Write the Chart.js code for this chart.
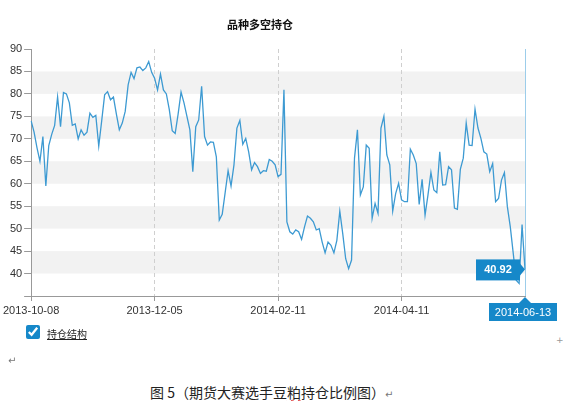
<!DOCTYPE html>
<html>
<head>
<meta charset="utf-8">
<script src="https://cdn.jsdelivr.net/npm/chart.js@4/dist/chart.umd.min.js"></script>
<style>
  html, body { margin: 0; padding: 0; background: #fff; }
  body { width: 563px; height: 401px; position: relative; overflow: hidden; font-family: "Liberation Sans", Arial, sans-serif; }
  #wrap { position: absolute; left: 0; top: 0; width: 563px; height: 330px; }
  .txt { position: absolute; white-space: nowrap; }
  #title { left: 227px; top: 17px; font: bold 11px/14px "Noto Sans CJK SC", sans-serif; color: #111; }
  #legendBox { position: absolute; left: 26px; top: 325px; width: 14px; height: 14px; margin: 0; accent-color: #1688c9; }
  #legendText { left: 47px; top: 327px; font: 10px/14px "Noto Sans CJK SC", sans-serif; color: #222; text-decoration: underline; }
  #ret1 { left: 8px; top: 355px; font: 10px/12px "DejaVu Sans", sans-serif; color: #777; }
  #plus { left: 556px; top: 334px; font: 9px/12px "DejaVu Sans", sans-serif; color: #999; }
  #caption { left: 150px; top: 383px; font: 14px/18px "Noto Sans CJK SC", sans-serif; color: #222; }
  #caption .ret { font: 10px "DejaVu Sans", sans-serif; color: #777; }
  #caption .spell { text-decoration: underline wavy #d33; text-decoration-thickness: 1px; }
</style>
</head>
<body>
<div id="wrap"><canvas id="posChart"></canvas></div>
<div class="txt" id="title">品种多空持仓</div>
<input type="checkbox" id="legendBox" checked>
<div class="txt" id="legendText">持仓结构</div>
<div class="txt" id="ret1">↵</div>
<div class="txt" id="plus">+</div>
<div class="txt" id="caption">图 5（期货大赛选手豆<span class="spell">粕</span>持仓比例图）<span class="ret">↵</span></div>
<script>
// trading days from 2013-10-08 to 2014-06-13 (weekends and exchange holidays skipped)
const startDate = '2013-10-08';
const endDate = '2014-06-13';
const holidays = ['2014-01-01', '2014-01-31', '2014-02-03', '2014-02-04', '2014-02-05',
    '2014-02-06', '2014-04-07', '2014-05-01', '2014-05-02', '2014-06-02'];
const shownTicks = ['2013-10-08', '2013-12-05', '2014-02-11', '2014-04-11'];

// long/short position ratio
const ratio = [
    74, 71.5, 68, 65, 70.5, 59.5, 68.5, 71, 73, 79.3,
    72.7, 80.3, 80, 78, 73, 73.3, 70, 72, 70.8, 71.5,
    75.7, 74.8, 75.2, 68.4, 74, 79.8, 80.5, 78.7, 79.3, 75.5,
    72, 73.5, 76.1, 82, 84.8, 83.4, 85.8, 86, 85.2, 85.8,
    87.2, 84.8, 83.5, 80.9, 84.4, 80.9, 80, 76.5, 71.8, 71.2,
    75.5, 80.4, 78, 75, 72, 62.7, 72.7, 74.2, 81.7, 70.5,
    68.6, 69.3, 69.2, 66, 51.9, 53.2, 58, 62.9, 59.5, 64.2,
    72.4, 74.1, 68.8, 70.1, 67.1, 63.1, 64.7, 63.8, 62.3, 62.9,
    62.8, 65.4, 65, 64.2, 61.6, 62.1, 80.9, 51.5, 49.3, 48.8,
    49.7, 49.3, 47.6, 50.4, 52.8, 52.3, 51.5, 49.7, 50, 47,
    44.6, 47, 46.3, 44.6, 47.4, 53.9, 48.9, 43.3, 41.1, 43,
    65.7, 72, 57.5, 59.3, 68.6, 67.9, 52.3, 55.6, 53.4, 72.4,
    75, 66.4, 64.2, 53.9, 57.8, 60.1, 56.4, 56, 56, 67.7,
    66.4, 64.5, 55.4, 61, 53, 57.5, 62.5, 58.6, 58, 67.1,
    59.7, 59.8, 63.8, 63.1, 54.6, 54.3, 63.2, 65.7, 73.5, 68.6,
    68.5, 76.6, 72.4, 70.1, 67.1, 66.6, 62.7, 64.5, 56, 56.7,
    60.8, 62.5, 54.9, 50.4, 44.5, 38.5, 37.8, 50.9, 40.92
];

// grey bands behind the plot
const bands = [[40, 45], [50, 55], [60, 65], [70, 75], [80, 85]];

function tradingDays(from, to, skip) {
    const out = [];
    const d = new Date(from + 'T00:00:00Z');
    const end = new Date(to + 'T00:00:00Z');
    while (d <= end) {
        const s = d.toISOString().slice(0, 10);
        const wd = d.getUTCDay();
        if (wd !== 0 && wd !== 6 && !skip.includes(s)) out.push(s);
        d.setUTCDate(d.getUTCDate() + 1);
    }
    return out;
}

const dates = tradingDays(startDate, endDate, holidays);
const lastIdx = ratio.length - 1;
const blue = '#1688c9';

const bandPlugin = {
    id: 'bands',
    beforeDraw(chart) {
        const { ctx, chartArea: a, scales: { y } } = chart;
        ctx.save();
        ctx.fillStyle = '#f2f2f2';
        bands.forEach(([lo, hi]) => {
            const top = y.getPixelForValue(hi);
            const bot = y.getPixelForValue(lo);
            ctx.fillRect(a.left, top, a.right - a.left, bot - top);
        });
        ctx.restore();
    },
    beforeDatasetsDraw(chart) {
        // crosshair on the last point
        const { ctx, chartArea: a, scales: { x } } = chart;
        const px = Math.round(x.getPixelForValue(lastIdx)) + 0.5;
        ctx.save();
        ctx.strokeStyle = '#9ccdea';
        ctx.lineWidth = 1;
        ctx.beginPath();
        ctx.moveTo(px, a.top);
        ctx.lineTo(px, a.bottom);
        ctx.stroke();
        ctx.restore();
    },
    afterDraw(chart) {
        const { ctx, chartArea: a, scales: { x, y } } = chart;
        const px = x.getPixelForValue(lastIdx);
        const py = y.getPixelForValue(ratio[lastIdx]);
        ctx.save();
        ctx.fillStyle = blue;
        // value flag
        ctx.fillRect(px - 49, py - 10, 44, 21);
        ctx.beginPath();
        ctx.moveTo(px - 5, py - 6);
        ctx.lineTo(px, py);
        ctx.lineTo(px - 5, py + 6);
        ctx.fill();
        // date flag
        ctx.fillRect(px - 36, a.bottom + 7, 68, 18);
        ctx.beginPath();
        ctx.moveTo(px - 6, a.bottom + 7);
        ctx.lineTo(px, a.bottom + 1);
        ctx.lineTo(px + 6, a.bottom + 7);
        ctx.fill();
        ctx.fillStyle = '#fff';
        ctx.textAlign = 'center';
        ctx.textBaseline = 'middle';
        ctx.font = 'bold 11px "Liberation Sans", Arial, sans-serif';
        ctx.fillText(ratio[lastIdx].toFixed(2), px - 27, py + 0.5);
        ctx.font = '11px "Liberation Sans", Arial, sans-serif';
        ctx.fillText(dates[lastIdx], px - 2, a.bottom + 16.5);
        ctx.restore();
    }
};

new Chart(document.getElementById('posChart'), {
    type: 'line',
    data: {
        labels: dates,
        datasets: [{
            label: '持仓结构',
            data: ratio,
            borderColor: '#3d9ad2',
            borderWidth: 1.3,
            pointRadius: 0,
            tension: 0,
            fill: false
        }]
    },
    options: {
        responsive: true,
        maintainAspectRatio: false,
        animation: false,
        layout: { padding: { top: 49, right: 38, left: 0, bottom: 0 } },
        plugins: { legend: { display: false }, tooltip: { enabled: false } },
        scales: {
            x: {
                afterFit: s => { s.height = 34; },
                grid: {
                    color: c => (c.index > 0 && c.index < lastIdx && shownTicks.includes(dates[c.index])) ? '#cfcfcf' : 'rgba(0,0,0,0)',
                    tickColor: c => (c.index < lastIdx && shownTicks.includes(dates[c.index])) ? '#999' : 'rgba(0,0,0,0)',
                    tickLength: 5,
                    tickBorderDash: []
                },
                border: { color: '#999', width: 1, dash: [4, 3] },
                ticks: {
                    autoSkip: false,
                    maxRotation: 0,
                    minRotation: 0,
                    padding: 3,
                    color: '#333',
                    font: { family: '"Liberation Sans", Arial, sans-serif', size: 11 },
                    callback: function (v, i) { return shownTicks.includes(dates[i]) ? dates[i] : ''; }
                }
            },
            y: {
                min: 35,
                max: 90,
                afterFit: s => { s.width = 29; },
                grid: { drawOnChartArea: false, tickLength: 7, tickColor: '#999' },
                border: { color: '#999', width: 1 },
                ticks: {
                    stepSize: 5,
                    padding: 2,
                    color: '#333',
                    font: { family: '"Liberation Sans", Arial, sans-serif', size: 11 },
                    callback: v => v === 35 ? '' : v
                }
            }
        }
    },
    plugins: [bandPlugin]
});
</script>
</body>
</html>
